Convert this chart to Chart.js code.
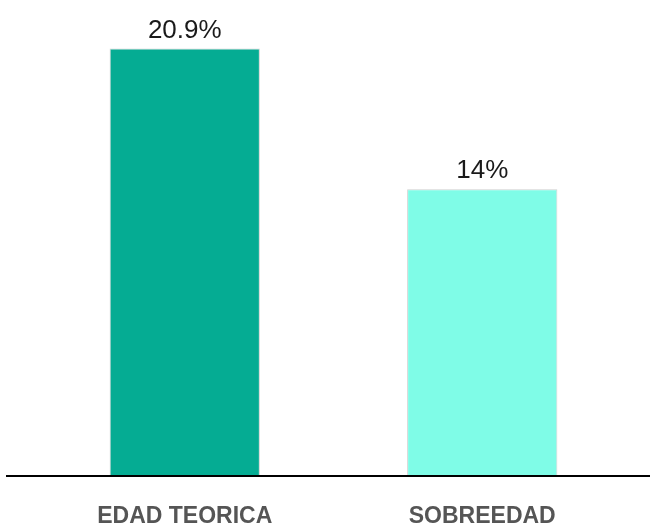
<!DOCTYPE html>
<html lang="es">
<head>
<meta charset="UTF-8">
<title>Edad</title>
<style>
  html, body { margin: 0; padding: 0; background: #fff; }
  .grafico { width: 650px; height: 525px; }
</style>
</head>
<body>
<div class="grafico">
  <canvas id="barras"></canvas>
</div>
<script src="https://cdn.jsdelivr.net/npm/chart.js"></script>
<script>
const categorias = ['EDAD TEORICA', 'SOBREEDAD'];
const valores = [20.9, 14];
const etiquetas = ['20.9%', '14%'];
const colores = ['#05ac93', '#7ffce7'];

// etiquetas de valor encima de cada barra
const etiquetasValor = {
  id: 'etiquetasValor',
  afterDatasetsDraw(chart) {
    const ctx = chart.ctx;
    const meta = chart.getDatasetMeta(0);
    ctx.save();
    ctx.font = '26px "Liberation Sans", Arial, sans-serif';
    ctx.fillStyle = '#1a1a1a';
    ctx.textAlign = 'center';
    ctx.textBaseline = 'alphabetic';
    meta.data.forEach((barra, i) => {
      ctx.fillText(etiquetas[i], barra.x, barra.y - 11);
    });
    ctx.restore();
  }
};

// linea base negra
const lineaBase = {
  id: 'lineaBase',
  afterDatasetsDraw(chart) {
    const ctx = chart.ctx;
    const y = chart.scales.y.getPixelForValue(0) + 1;
    ctx.save();
    ctx.strokeStyle = '#000';
    ctx.lineWidth = 2;
    ctx.beginPath();
    ctx.moveTo(6, y);
    ctx.lineTo(650, y);
    ctx.stroke();
    ctx.restore();
  }
};

new Chart(document.getElementById('barras'), {
  type: 'bar',
  data: {
    labels: categorias,
    datasets: [{
      data: valores,
      backgroundColor: colores,
      borderColor: 'rgba(150,150,150,0.45)',
      borderWidth: 1,
      categoryPercentage: 1,
      barPercentage: 0.505
    }]
  },
  options: {
    responsive: true,
    maintainAspectRatio: false,
    animation: false,
    layout: { padding: { left: 36, right: 19, top: 20, bottom: 0 } },
    plugins: {
      legend: { display: false },
      tooltip: { enabled: false }
    },
    scales: {
      x: {
        grid: { display: false, drawTicks: false },
        border: { display: false },
        ticks: {
          color: '#555',
          padding: 28,
          font: { family: '"Liberation Sans", Arial, sans-serif', size: 23, weight: 'bold' }
        },
        afterFit(scale) { scale.height = 50; }
      },
      y: {
        display: false,
        min: 0,
        max: 22.3
      }
    }
  },
  plugins: [etiquetasValor, lineaBase]
});
</script>
</body>
</html>
